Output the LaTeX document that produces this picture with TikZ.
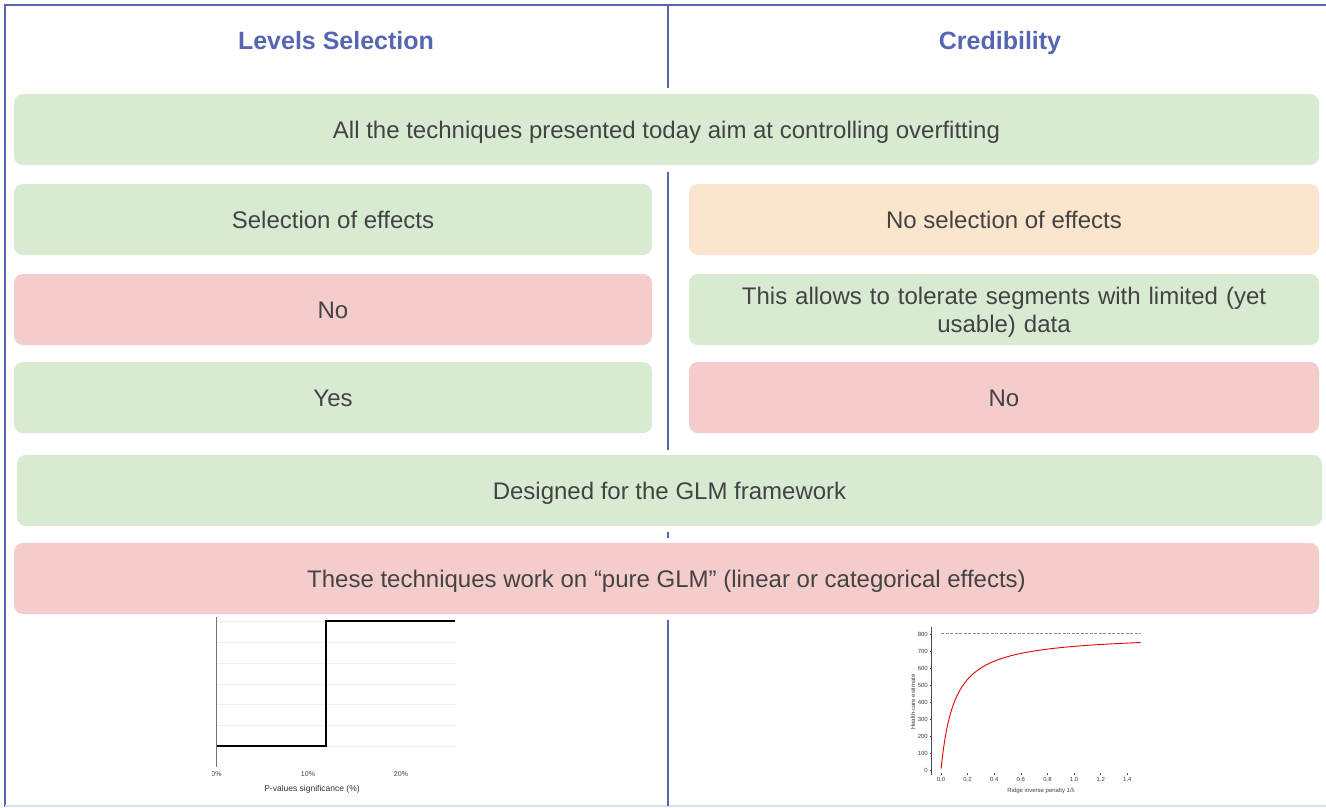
\documentclass[tikz,border=0pt]{standalone}
\usepackage{fontspec}
\setmainfont{Liberation Sans}
\definecolor{boxgreen}{HTML}{D9EAD3}
\definecolor{boxpink}{HTML}{F4CCCC}
\definecolor{boxorange}{HTML}{FCE5CD}
\definecolor{txt}{HTML}{434343}
\definecolor{hdr}{HTML}{5567B3}
\definecolor{frameblue}{HTML}{5567B3}
\definecolor{framelight}{HTML}{D8DEF0}
\definecolor{gridgray}{HTML}{EEEEEE}
\begin{document}
\begin{tikzpicture}[x=1pt,y=-1pt,
  cardbase/.style={rounded corners=9pt, inner sep=0pt, text=txt,
    font=\fontsize{24}{28}\selectfont, align=center},
  card/.style={cardbase, text height=23.5pt, text depth=5pt},
  greencard/.style={card, fill=boxgreen},
  pinkcard/.style={card, fill=boxpink},
  orangecard/.style={card, fill=boxorange},
  header/.style={text=hdr, font=\fontsize{25}{29}\selectfont\bfseries, anchor=base},
  divider/.style={draw=frameblue, line width=1.6pt},
  ticklbl/.style={font=\fontsize{7}{8}\selectfont, text=black!75, inner sep=0pt},
  smalllbl/.style={font=\fontsize{6}{7}\selectfont, text=black!75, inner sep=0pt}]
\useasboundingbox (0,0) rectangle (1326,807);
\fill[white] (0,0) rectangle (1326,807);

% frame
\draw[frameblue, line width=2.2pt] (5,807) -- (5,5) -- (1326,5);
\draw[framelight, line width=1.5pt] (5,806) -- (1326,806);

% divider segments
\coordinate (d1a) at (668,5);   \coordinate (d1b) at (668,88);
\coordinate (d2a) at (668,172); \coordinate (d2b) at (668,450);
\coordinate (d3a) at (668,532); \coordinate (d3b) at (668,538);
\coordinate (d4a) at (668,620); \coordinate (d4b) at (668,806);
\draw[divider] (d1a) -- (d1b);
\draw[divider] (d2a) -- (d2b);
\draw[divider] (d3a) -- (d3b);
\draw[divider] (d4a) -- (d4b);

% headers
\node[header] (h1) at (336,49) {Levels Selection};
\node[header] (h2) at (1000,49) {Credibility};

% cards
\node[greencard, minimum width=1305pt, minimum height=71pt] (top) at (666.5,129.5)
  {All the techniques presented today aim at controlling overfitting};
\node[greencard, minimum width=638pt, minimum height=71pt] (l1) at (333,219.5) {Selection of effects};
\node[pinkcard, minimum width=638pt, minimum height=71pt] (l2) at (333,309.5) {No};
\node[greencard, minimum width=638pt, minimum height=71pt] (l3) at (333,397.5) {Yes};
\node[orangecard, minimum width=630pt, minimum height=71pt] (r1) at (1004,219.5) {No selection of effects};
\fill[boxgreen, rounded corners=9pt] (689,274) rectangle (1319,345);
\node[cardbase, text width=600pt] (r2) at (1004,312)
  {This allows to tolerate segments with limited (yet\\usable) data};
\node[pinkcard, minimum width=630pt, minimum height=71pt] (r3) at (1004,397.5) {No};
\node[greencard, minimum width=1305pt, minimum height=71pt] (glm) at (669.5,490.5) {Designed for the GLM framework};
\node[pinkcard, minimum width=1305pt, minimum height=71pt] (pure) at (666.5,578.5)
  {These techniques work on “pure GLM” (linear or categorical effects)};

% left plot: step function
\foreach \yy in {621,642,663,684,704,725,746} \draw[gridgray, line width=0.6pt] (217,\yy) -- (456,\yy);
\draw[black!55, line width=1pt] (216.5,617) -- (216.5,767);
\draw[black, line width=1.5pt] (217,746) -- (326,746) -- (326,621) -- (455,621);
\begin{scope}
\clip (212,760) rectangle (460,800);
\node[ticklbl] (t0) at (216.5,774) {0\%};
\end{scope}
\node[ticklbl] (t10) at (308,774) {10\%};
\node[ticklbl] (t20) at (401,774) {20\%};
\node[font=\fontsize{8.5}{9}\selectfont, text=black!80, inner sep=0pt] (pxl) at (312,789) {P-values significance (\%)};

% right plot: ridge credibility curve
\draw[black!70, line width=0.6pt] (931.7,627) -- (931.7,775);
\foreach \v in {0,100,...,800} {
  \draw[black!70, line width=0.5pt] (929.5,{770-0.17*\v}) -- (931.7,{770-0.17*\v});
  \node[smalllbl, anchor=east] at (928,{770-0.17*\v}) {\v};
}
\foreach \xv/\lab in {0/0.0,0.2/0.2,0.4/0.4,0.6/0.6,0.8/0.8,1.0/1.0,1.2/1.2,1.4/1.4} {
  \draw[black!70, line width=0.5pt] ({941+133.1*\xv},773) -- ({941+133.1*\xv},775);
  \node[smalllbl] at ({941+133.1*\xv},779) {\lab};
}
\draw[black!45, dash pattern=on 3pt off 1.5pt, line width=0.6pt] (941,633.5) -- (1141,633.5);
\draw[red!90!black, line width=0.9pt] plot[domain=0.001:1.5, samples=150, smooth]
  ({941+133.1*\x},{770-0.17*800*\x/(\x+0.1)});
\node[smalllbl] (rxl) at (1041,790.5) {Ridge inverse penalty 1/λ};
\node[smalllbl, rotate=90] (ryl) at (913,702) {Health-care estimate};
\end{tikzpicture}
\end{document}
